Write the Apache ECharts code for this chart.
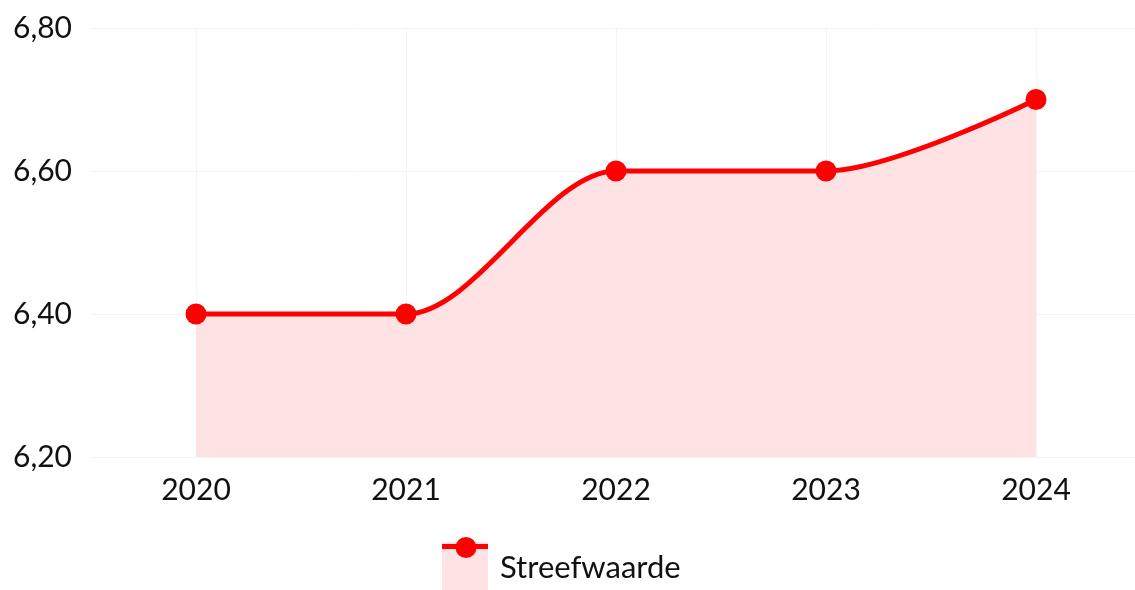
<!DOCTYPE html>
<html>
<head>
<meta charset="utf-8">
<script src="https://cdn.jsdelivr.net/npm/echarts@6/dist/echarts.min.js"></script>
<style>
  html, body { margin: 0; padding: 0; background: #fff; }
  #chart { width: 1135px; height: 590px; }
</style>
</head>
<body>
<div id="chart"></div>
<script>
const years = ['2020', '2021', '2022', '2023', '2024'];
const streefwaarde = [6.40, 6.40, 6.60, 6.60, 6.70];
const yMin = 6.2;
const yMax = 6.8;
const yStep = 0.2;

// legend icon: pink area block with the red line + marker on top
const iconSvg =
  '<svg xmlns="http://www.w3.org/2000/svg" width="46" height="62">' +
  '<rect x="0" y="5" width="46" height="57" fill="#ffe3e4"/>' +
  '<line x1="0" y1="9.5" x2="46" y2="9.5" stroke="#ff0000" stroke-width="5"/>' +
  '<circle cx="24" cy="10.5" r="10.5" fill="#ff0000"/>' +
  '</svg>';
const legendIcon = 'image://data:image/svg+xml;charset=utf-8,' + encodeURIComponent(iconSvg);

const chart = echarts.init(document.getElementById('chart'));
const option = {
  animation: false,
  textStyle: { fontFamily: 'Lato' },
  grid: { left: 91, top: 28, width: 1050, bottom: 133, outerBoundsMode: 'none' },
  xAxis: {
    type: 'category',
    data: years,
    boundaryGap: true,
    axisLine: { show: true, lineStyle: { color: '#f3f4f6', width: 1 } },
    axisTick: { show: false },
    axisLabel: { color: '#111', fontSize: 30, fontFamily: 'Lato', margin: 18 },
    splitLine: { show: true, alignWithLabel: true, lineStyle: { color: '#f3f4f6', width: 1 } }
  },
  yAxis: {
    type: 'value',
    min: yMin,
    max: yMax,
    interval: yStep,
    axisLine: { show: false },
    axisTick: { show: false },
    axisLabel: {
      color: '#111',
      fontSize: 30,
      fontFamily: 'Lato',
      margin: 19,
      formatter: v => v.toFixed(2).replace('.', ',')
    },
    splitLine: { show: true, lineStyle: { color: '#f3f4f6', width: 1 } }
  },
  legend: {
    left: 442,
    top: 537,
    padding: 0,
    itemWidth: 46,
    itemHeight: 62,
    data: [{ name: 'Streefwaarde', icon: legendIcon }],
    textStyle: { color: '#111', fontSize: 31, fontFamily: 'Lato', padding: [0, 0, 0, 7] }
  },
  series: [
    {
      name: 'Streefwaarde',
      type: 'line',
      data: streefwaarde,
      smooth: 0.3,
      symbol: 'circle',
      symbolSize: 21,
      lineStyle: { color: '#ff0000', width: 5 },
      itemStyle: { color: '#ff0000' },
      areaStyle: { color: '#ffe3e4', opacity: 1 }
    }
  ]
};
chart.setOption(option);
window.addEventListener('resize', () => chart.resize());
</script>
</body>
</html>
